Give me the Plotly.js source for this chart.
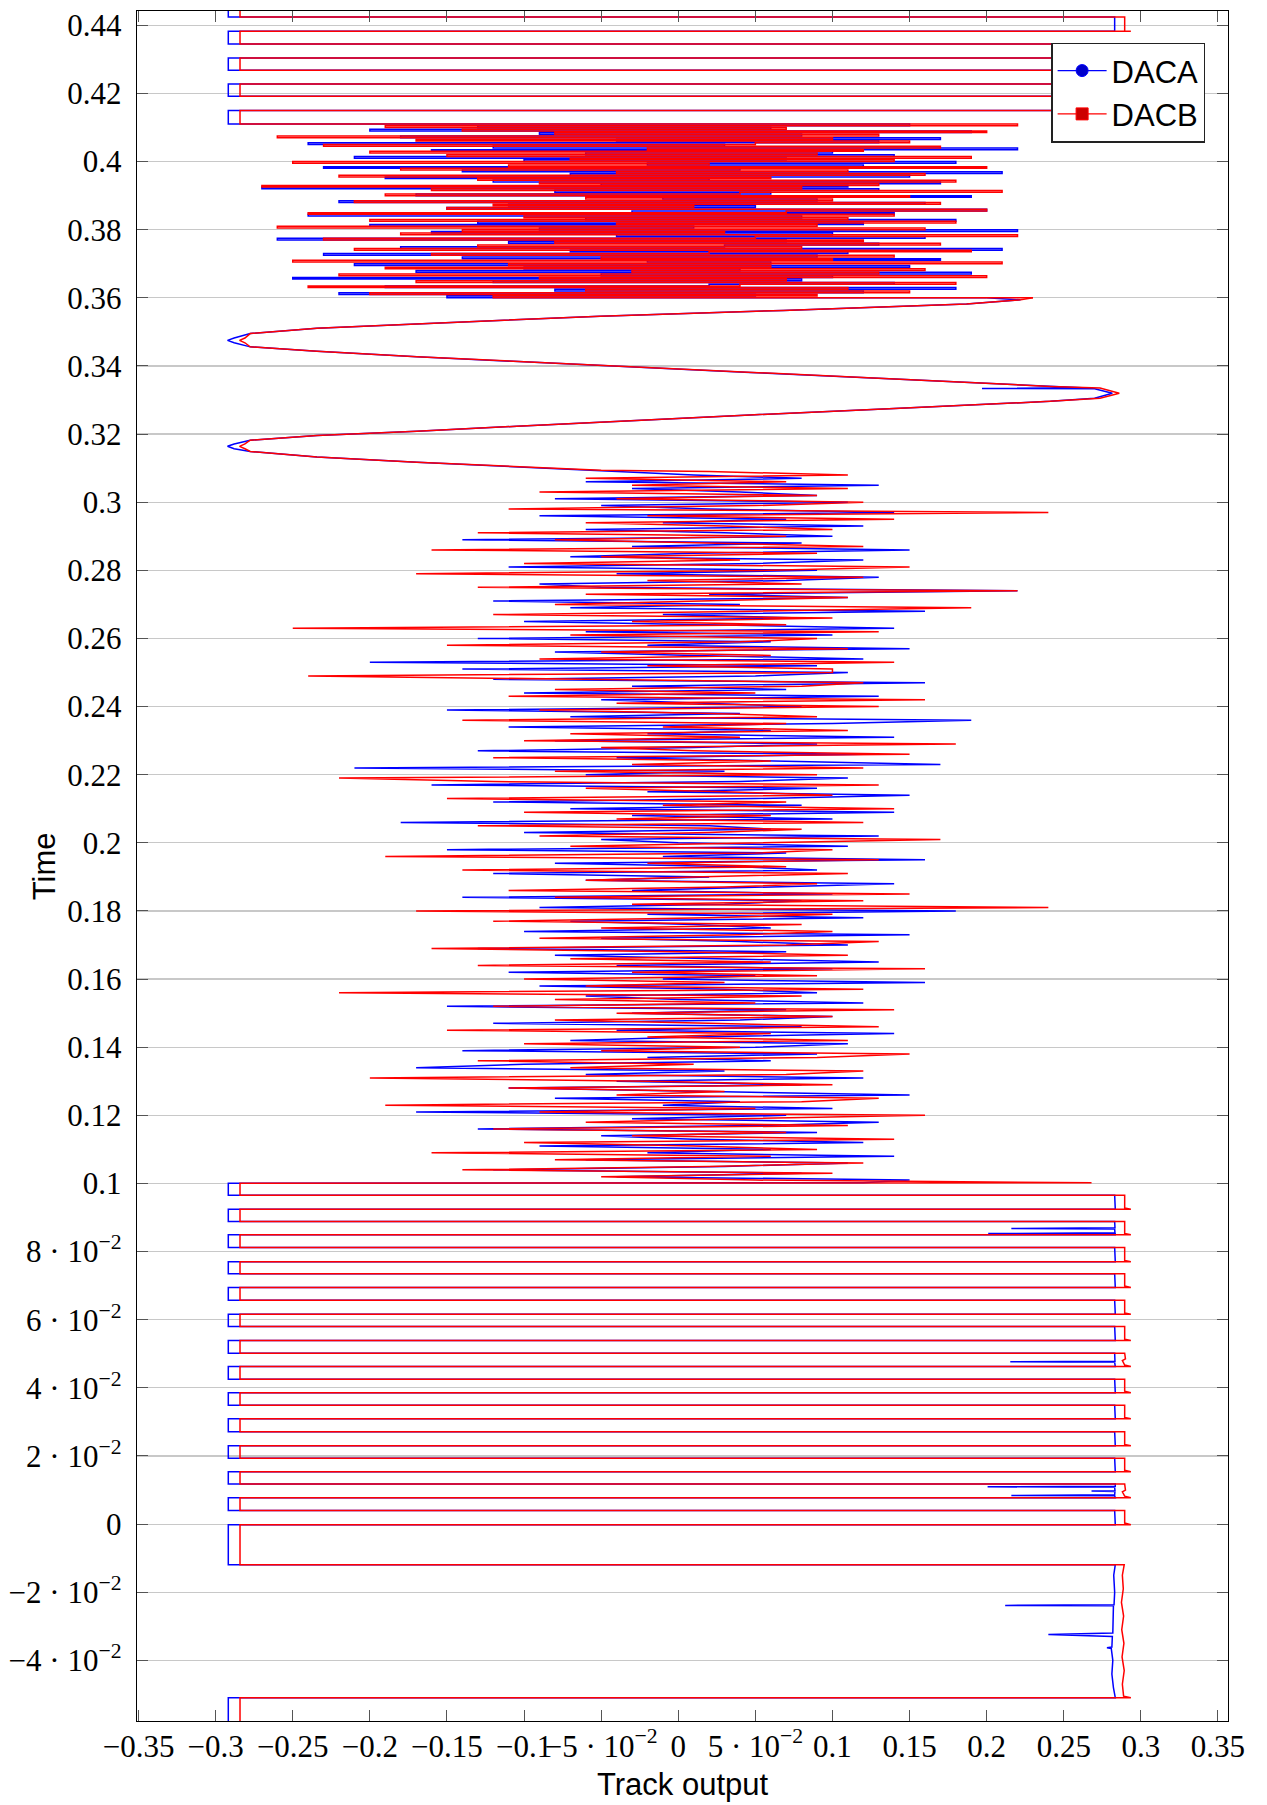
<!DOCTYPE html>
<html>
<head>
<meta charset="utf-8">
<script src="https://cdn.plot.ly/plotly-3.0.1.min.js"></script>
<style>html,body{margin:0;padding:0;background:#fff;}#chart{width:1267px;height:1805px;}</style>
</head>
<body>
<div id="chart"></div>
<script>
// ---- Series names ----
const seriesNames = ['DACA', 'DACB'];

// ---- Tick values and labels ----
const xTickVals = [-0.35,-0.3,-0.25,-0.2,-0.15,-0.1,-0.05,0,0.05,0.1,0.15,0.2,0.25,0.3,0.35];
const xTickText = ['−0.35','−0.3','−0.25','−0.2','−0.15','−0.1','−5 · 10<sup>−2</sup>','0','5 · 10<sup>−2</sup>','0.1','0.15','0.2','0.25','0.3','0.35'];
const yTickVals = [-0.04,-0.02,0,0.02,0.04,0.06,0.08,0.1,0.12,0.14,0.16,0.18,0.2,0.22,0.24,0.26,0.28,0.3,0.32,0.34,0.36,0.38,0.4,0.42,0.44];
const yTickText = ['−4 · 10<sup>−2</sup>','−2 · 10<sup>−2</sup>','0','2 · 10<sup>−2</sup>','4 · 10<sup>−2</sup>','6 · 10<sup>−2</sup>','8 · 10<sup>−2</sup>','0.1','0.12','0.14','0.16','0.18','0.2','0.22','0.24','0.26','0.28','0.3','0.32','0.34','0.36','0.38','0.4','0.42','0.44'];

// ---- DACA: square-wave part, bottom ( [time, output] ) ----
const sqLowA = [
[-0.0600,-0.2918],[-0.05096,-0.2918],[-0.05096,0.2834],[-0.0480,0.2822],[-0.0440,0.2812],[-0.0400,0.2818],
[-0.0365,0.2808],[-0.0363,0.278],[-0.0361,0.2812],[-0.0330,0.2815],[-0.03244,0.240],[-0.0320,0.2818],
[-0.0280,0.2820],[-0.0240,0.2822],[-0.02386,0.212],[-0.0237,0.2826],[-0.0200,0.2830],[-0.0150,0.2824],
[-0.01192,0.2834],[-0.01192,-0.2918],[-0.00018,-0.2918],[-0.00018,0.2834],[0.00402,0.2830],[0.00402,-0.2918],
[0.00775,-0.2918],[0.00775,0.2834],[0.0083,0.2830],[0.00842,0.216],[0.0086,0.2830],[0.0096,0.2832],
[0.00969,0.268],[0.0098,0.2832],[0.0108,0.2830],[0.01097,0.2006],[0.0111,0.2834],[0.01174,0.2834],
[0.01174,-0.2918],[0.01538,-0.2918],[0.01538,0.2834],[0.01937,0.2830],[0.01937,-0.2918],[0.02301,-0.2918],
[0.02301,0.2834],[0.02712,0.2830],[0.02712,-0.2918],[0.03094,-0.2918],[0.03094,0.2834],[0.03493,0.2830],
[0.03493,-0.2918],[0.03857,-0.2918],[0.03857,0.2834],[0.04256,0.2830],[0.04256,-0.2918],[0.04629,-0.2918],
[0.04629,0.2834],[0.0475,0.2830],[0.04767,0.2153],[0.0478,0.2832],[0.05019,0.2830],[0.05019,-0.2918],
[0.05392,-0.2918],[0.05392,0.2834],[0.05803,0.2830],[0.05803,-0.2918],[0.06164,-0.2918],[0.06164,0.2834],
[0.06575,0.2830],[0.06575,-0.2918],[0.06948,-0.2918],[0.06948,0.2834],[0.07350,0.2830],[0.07350,-0.2918],
[0.07702,-0.2918],[0.07702,0.2834],[0.08122,0.2830],[0.08122,-0.2918],[0.08495,-0.2918],[0.08495,0.2834],
[0.0852,0.2834],[0.0853,0.201],[0.0855,0.2832],[0.0866,0.2830],[0.0868,0.216],[0.0870,0.2832],
[0.08885,0.2830],[0.08885,-0.2918],[0.09246,-0.2918],[0.09246,0.2834],[0.09657,0.2830],[0.09657,-0.2918],
[0.10009,-0.2918],[0.1002,0.12]
];

// ---- DACB: square-wave part, bottom ----
const sqLowB = [
[-0.0600,-0.2842],[-0.05096,-0.2842],[-0.05096,0.2935],[-0.0505,0.2888],[-0.0470,0.2880],[-0.0430,0.2892],
[-0.0390,0.2878],[-0.0350,0.2890],[-0.0310,0.2876],[-0.0270,0.2888],[-0.0230,0.2874],[-0.0190,0.2886],
[-0.0150,0.2880],[-0.01192,0.2892],[-0.01192,-0.2842],[-0.00018,-0.2842],[-0.00018,0.2935],[0.0003,0.2895],
[0.00402,0.2895],[0.00402,-0.2842],[0.00775,-0.2842],[0.00775,0.2935],[0.0082,0.2895],[0.0095,0.2880],
[0.0100,0.2900],[0.01174,0.2895],[0.01174,-0.2842],[0.01538,-0.2842],[0.01538,0.2935],[0.0158,0.2895],
[0.01937,0.2895],[0.01937,-0.2842],[0.02301,-0.2842],[0.02301,0.2935],[0.0234,0.2895],[0.02712,0.2895],
[0.02712,-0.2842],[0.03094,-0.2842],[0.03094,0.2935],[0.0313,0.2895],[0.03493,0.2895],[0.03493,-0.2842],
[0.03857,-0.2842],[0.03857,0.2935],[0.0390,0.2895],[0.04256,0.2895],[0.04256,-0.2842],[0.04629,-0.2842],
[0.04629,0.2935],[0.0467,0.2895],[0.0480,0.2880],[0.0485,0.2900],[0.05019,0.2895],[0.05019,-0.2842],
[0.05392,-0.2842],[0.05392,0.2935],[0.0543,0.2895],[0.05803,0.2895],[0.05803,-0.2842],[0.06164,-0.2842],
[0.06164,0.2935],[0.0620,0.2895],[0.06575,0.2895],[0.06575,-0.2842],[0.06948,-0.2842],[0.06948,0.2935],
[0.0699,0.2895],[0.07350,0.2895],[0.07350,-0.2842],[0.07702,-0.2842],[0.07702,0.2935],[0.0774,0.2895],
[0.08122,0.2895],[0.08122,-0.2842],[0.08495,-0.2842],[0.08495,0.2935],[0.0853,0.2895],[0.08885,0.2895],
[0.08885,-0.2842],[0.09246,-0.2842],[0.09246,0.2935],[0.0928,0.2895],[0.09657,0.2895],[0.09657,-0.2842],
[0.10009,-0.2842],[0.1002,0.268]
];

// ---- Noisy stretch 1: sample times (shared) ----
const lowNoiseT = [
0.101,0.102,0.103,0.104,0.105,0.106,0.107,0.108,0.109,0.110,
0.111,0.112,0.113,0.114,0.115,0.116,0.117,0.118,0.119,0.120,
0.121,0.122,0.123,0.124,0.125,0.126,0.127,0.128,0.129,0.130,
0.131,0.132,0.133,0.134,0.135,0.136,0.137,0.138,0.139,0.140,
0.141,0.142,0.143,0.144,0.145,0.146,0.147,0.148,0.149,0.150,
0.151,0.152,0.153,0.154,0.155,0.156,0.157,0.158,0.159,0.160,
0.161,0.162,0.163,0.164,0.165,0.166,0.167,0.168,0.169,0.170,
0.171,0.172,0.173,0.174,0.175,0.176,0.177,0.178,0.179,0.180,
0.181,0.182,0.183,0.184,0.185,0.186,0.187,0.188,0.189,0.190,
0.191,0.192,0.193,0.194,0.195,0.196,0.197,0.198,0.199,0.200,
0.201,0.202,0.203,0.204,0.205,0.206,0.207,0.208,0.209,0.210,
0.211,0.212,0.213,0.214,0.215,0.216,0.217,0.218,0.219,0.220,
0.221,0.222,0.223,0.224,0.225,0.226,0.227,0.228,0.229,0.230,
0.231,0.232,0.233,0.234,0.235,0.236,0.237,0.238,0.239,0.240,
0.241,0.242,0.243,0.244,0.245,0.246,0.247,0.248,0.249,0.250,
0.251,0.252,0.253,0.254,0.255,0.256,0.257,0.258,0.259,0.260,
0.261,0.262,0.263,0.264,0.265,0.266,0.267,0.268,0.269,0.270,
0.271,0.272,0.273,0.274,0.275,0.276,0.277,0.278,0.279,0.280,
0.281,0.282,0.283,0.284,0.285,0.286,0.287,0.288,0.289,0.290,
0.291,0.292,0.293,0.294,0.295,0.296,0.297,0.298,0.299,0.300,
0.301,0.302,0.303,0.304,0.305,0.306,0.307,0.308,0.309
];
const lowNoiseA = [
0.15,-0.04,0.08,-0.12,0.03,0.11,-0.06,0.14,-0.02,0.06,
-0.09,0.12,0.01,-0.05,0.09,-0.13,0.05,0.13,-0.03,0.07,
-0.17,0.10,-0.01,0.04,-0.08,0.15,0.02,-0.11,0.08,-0.04,
0.12,-0.06,0.03,-0.17,-0.10,0.06,-0.02,0.09,-0.14,0.05,
0.11,-0.07,0.01,0.14,-0.04,0.08,-0.12,0.04,0.10,-0.03,
0.07,-0.15,0.12,0.00,-0.06,0.09,0.03,-0.09,0.16,-0.01,
0.05,-0.11,0.10,-0.04,0.13,0.02,-0.08,0.07,-0.13,0.11,
0.04,-0.05,0.15,-0.10,0.06,0.01,-0.07,0.12,-0.02,0.18,
-0.09,0.03,0.08,-0.14,0.10,-0.03,0.05,0.14,-0.06,0.02,
-0.12,0.09,0.04,-0.08,0.16,-0.01,0.07,-0.15,0.11,0.00,
-0.05,0.13,-0.10,0.06,0.02,-0.18,0.10,-0.03,0.14,-0.07,
0.08,-0.12,0.05,0.15,-0.02,0.09,-0.16,0.04,0.11,-0.06,
0.03,-0.21,0.17,0.07,-0.04,0.12,-0.13,0.01,0.09,-0.08,
0.14,-0.02,0.06,-0.11,0.10,0.19,-0.07,0.04,-0.15,0.08,
0.02,-0.05,0.13,-0.10,0.07,-0.03,0.16,-0.12,0.05,0.11,
-0.14,0.09,-0.20,0.12,0.01,-0.08,0.15,-0.02,0.06,-0.13,
0.10,-0.06,0.14,0.03,-0.10,0.08,-0.01,0.16,-0.07,0.04,
-0.12,0.11,0.02,0.22,-0.05,-0.09,0.07,0.13,-0.04,0.09,
-0.11,0.05,0.12,-0.07,0.01,0.15,-0.03,0.08,-0.14,0.10,
0.03,-0.06,0.12,-0.01,0.07,-0.09,0.14,0.02,-0.05,0.11,
-0.08,0.09,0.04,-0.03,0.13,-0.06,0.08,0.01,-0.04
];
const lowNoiseB = [
0.05,-0.05,0.10,-0.14,0.02,0.12,-0.08,0.06,-0.16,0.09,
0.01,-0.10,0.14,-0.03,0.07,-0.12,0.11,-0.06,0.04,0.16,
-0.09,0.05,-0.19,0.08,0.13,-0.04,0.03,-0.11,0.10,-0.02,
-0.20,0.07,0.12,-0.07,0.01,-0.13,0.09,0.15,-0.05,0.04,
-0.10,0.11,-0.02,0.06,-0.15,0.13,0.02,-0.08,0.10,-0.04,
0.14,-0.12,0.05,-0.08,0.08,-0.22,0.12,-0.06,0.03,-0.10,
0.09,-0.03,0.16,-0.13,0.06,-0.07,0.11,0.00,-0.16,0.07,
0.13,-0.09,0.04,0.10,-0.05,0.08,-0.12,0.02,0.10,-0.17,
0.24,-0.03,0.12,-0.08,0.15,-0.11,0.03,0.09,-0.06,0.01,
0.11,-0.14,0.07,-0.02,0.13,-0.19,0.05,0.10,-0.07,0.04,
0.17,-0.09,0.02,0.08,-0.13,0.12,-0.04,0.06,-0.10,0.14,
-0.01,0.07,-0.15,0.10,0.03,-0.06,0.13,-0.12,-0.22,0.09,
-0.08,0.12,-0.03,0.06,-0.12,0.15,0.01,-0.05,0.18,-0.10,
0.04,-0.07,0.11,-0.01,0.07,-0.14,0.09,0.02,-0.09,0.13,
-0.04,0.16,-0.11,0.05,-0.08,0.08,0.12,-0.06,-0.24,0.10,
0.10,-0.02,0.14,-0.09,0.06,-0.05,0.11,-0.15,0.04,0.09,
-0.07,0.13,-0.25,0.07,-0.03,0.10,-0.12,0.05,0.19,-0.08,
0.02,0.11,-0.06,0.22,-0.13,0.08,-0.02,0.12,-0.17,0.06,
0.15,-0.10,0.04,-0.05,0.09,-0.16,0.12,0.01,-0.08,0.07,
-0.13,0.10,0.03,-0.06,0.14,-0.02,0.24,-0.11,0.05,0.12,
-0.04,0.09,-0.09,0.11,-0.03,0.07,-0.06,0.11,0.02
];

// ---- Sinusoidal stretch ( [time, output] ) ----
const sinA = [
[0.3094,-0.050],[0.3104,-0.1046],[0.3117,-0.1695],[0.3133,-0.2343],[0.3149,-0.2776],[0.3157,-0.2880],
[0.3164,-0.2923],[0.3171,-0.2880],[0.3182,-0.2776],[0.3196,-0.2343],[0.3208,-0.1695],[0.3223,-0.1046],
[0.3235,-0.0506],[0.3256,0.0465],[0.3276,0.1438],[0.3296,0.2413],[0.3305,0.2700],[0.3320,0.2815],
[0.3333,0.2700],[0.3334,0.197],[0.3336,0.262],[0.3340,0.2413],[0.3361,0.1438],[0.3381,0.0465],
[0.3401,-0.0506],[0.3412,-0.1046],[0.3427,-0.1695],[0.3443,-0.2343],[0.3456,-0.2776],[0.3468,-0.2880],
[0.3475,-0.2923],[0.3482,-0.2880],[0.3495,-0.2776],[0.3511,-0.2343],[0.3524,-0.1695],[0.3536,-0.1046],
[0.3546,-0.0506],[0.3563,0.068],[0.3582,0.187],[0.3594,0.222]
];
const sinB = [
[0.3094,-0.050],[0.3104,-0.1046],[0.3117,-0.1695],[0.3133,-0.2343],[0.3149,-0.2776],[0.3157,-0.2810],
[0.3164,-0.2845],[0.3171,-0.2810],[0.3182,-0.2776],[0.3196,-0.2343],[0.3208,-0.1695],[0.3223,-0.1046],
[0.3235,-0.0506],[0.3256,0.0465],[0.3276,0.1438],[0.3296,0.2413],[0.3305,0.2735],[0.3320,0.2860],
[0.3335,0.2735],[0.3340,0.2413],[0.3361,0.1438],[0.3381,0.0465],
[0.3401,-0.0506],[0.3412,-0.1046],[0.3427,-0.1695],[0.3443,-0.2343],[0.3456,-0.2776],[0.3468,-0.2810],
[0.3475,-0.2845],[0.3482,-0.2810],[0.3495,-0.2776],[0.3511,-0.2343],[0.3524,-0.1695],[0.3536,-0.1046],
[0.3546,-0.0506],[0.3563,0.068],[0.3582,0.187],[0.3594,0.222]
];

// ---- Noisy stretch 2: sample times (shared) ----
const upNoiseT = [
0.3600,0.3605,0.3610,0.3615,0.3620,0.3625,0.3630,0.3635,0.3640,0.3645,
0.3650,0.3655,0.3660,0.3665,0.3670,0.3675,0.3680,0.3685,0.3690,0.3695,
0.3700,0.3705,0.3710,0.3715,0.3720,0.3725,0.3730,0.3735,0.3740,0.3745,
0.3750,0.3755,0.3760,0.3765,0.3770,0.3775,0.3780,0.3785,0.3790,0.3795,
0.3800,0.3805,0.3810,0.3815,0.3820,0.3825,0.3830,0.3835,0.3840,0.3845,
0.3850,0.3855,0.3860,0.3865,0.3870,0.3875,0.3880,0.3885,0.3890,0.3895,
0.3900,0.3905,0.3910,0.3915,0.3920,0.3925,0.3930,0.3935,0.3940,0.3945,
0.3950,0.3955,0.3960,0.3965,0.3970,0.3975,0.3980,0.3985,0.3990,0.3995,
0.4000,0.4005,0.4010,0.4015,0.4020,0.4025,0.4030,0.4035,0.4040,0.4045,
0.4050,0.4055,0.4060,0.4065,0.4070,0.4075,0.4080,0.4085,0.4090,0.4095,
0.4100,0.4105,0.4110
];
const upNoiseA = [
0.20,-0.15,0.05,-0.22,0.12,-0.08,0.18,-0.19,0.02,0.14,
-0.12,0.08,-0.25,0.10,-0.05,0.19,-0.17,0.04,-0.10,0.15,
-0.21,0.06,-0.02,0.17,-0.14,0.09,-0.23,0.11,-0.07,0.21,
-0.18,0.03,0.13,-0.11,0.07,-0.26,0.16,-0.04,0.10,-0.16,
0.22,-0.09,0.01,-0.20,0.12,-0.13,0.18,-0.06,0.08,-0.24,
0.14,-0.03,0.20,-0.15,0.05,-0.11,0.16,-0.22,0.09,-0.01,
0.19,-0.17,0.06,-0.08,0.13,-0.27,0.11,-0.05,0.17,-0.12,
0.02,-0.19,0.15,-0.07,0.21,-0.14,0.04,-0.23,0.12,-0.02,
0.18,-0.10,0.07,-0.21,0.14,-0.06,0.10,-0.16,0.22,-0.12,
0.03,-0.24,0.13,-0.04,0.17,-0.18,0.08,-0.09,0.19,-0.20,
0.06,-0.13,0.15
];
const upNoiseB = [
0.23,-0.12,0.09,-0.20,0.15,-0.06,0.11,-0.24,0.04,0.18,
-0.17,0.07,-0.09,0.20,-0.22,0.13,-0.03,0.16,-0.19,0.06,
-0.11,0.21,-0.25,0.10,-0.05,0.14,-0.16,0.02,0.19,-0.21,
0.08,-0.13,0.17,-0.08,0.12,-0.23,0.05,0.22,-0.18,0.03,
-0.14,0.16,-0.26,0.09,-0.04,0.18,-0.20,0.11,-0.10,0.14,
-0.24,0.07,0.20,-0.15,0.01,-0.12,0.17,-0.21,0.10,-0.06,
0.15,-0.19,0.04,0.21,-0.16,0.08,-0.27,0.13,-0.09,0.18,
-0.13,0.06,-0.22,0.16,-0.04,0.11,-0.18,0.20,-0.11,0.02,
-0.25,0.14,-0.07,0.19,-0.15,0.09,-0.20,0.12,-0.02,0.17,
-0.23,0.05,0.15,-0.17,0.10,-0.26,0.13,-0.08,0.20,-0.14,
0.07,-0.19,0.22
];

// ---- Square-wave part, top ( [time, output] ) ----
const sqTopA = [
[0.41153,-0.2918],[0.41496,-0.2918],[0.41496,0.2834],[0.41916,0.2830],[0.41916,-0.2918],[0.42280,-0.2918],
[0.42280,0.2834],[0.42679,0.2830],[0.42679,-0.2918],[0.43043,-0.2918],[0.43043,0.2834],[0.43454,0.2830],
[0.43454,-0.2918],[0.43824,-0.2918],[0.43824,0.2834],[0.44247,0.2830],[0.44247,-0.2918],[0.4470,-0.2918]
];
const sqTopB = [
[0.41153,-0.2842],[0.41496,-0.2842],[0.41496,0.2935],[0.4153,0.2895],[0.41916,0.2895],[0.41916,-0.2842],
[0.42280,-0.2842],[0.42280,0.2935],[0.4231,0.2895],[0.42679,0.2895],[0.42679,-0.2842],[0.43043,-0.2842],
[0.43043,0.2935],[0.4308,0.2895],[0.43454,0.2895],[0.43454,-0.2842],[0.43824,-0.2842],[0.43824,0.2935],
[0.4386,0.2895],[0.44247,0.2895],[0.44247,-0.2842],[0.4470,-0.2842]
];

// ---- Assemble each series in time order ----
function pairsT(p) { return p.map(q => q[0]); }
function pairsX(p) { return p.map(q => q[1]); }
function series(sqLow, lowN, sinP, upN, sqTop, color, name) {
  const common = {type: 'scatter', mode: 'lines', showlegend: false, hoverinfo: 'skip', name: name};
  // bottom square wave, first noisy stretch and the sine stretch: straight segments
  const lowMid = Object.assign({}, common, {
    x: pairsX(sqLow).concat(lowN, pairsX(sinP), [upN[0]]),
    y: pairsT(sqLow).concat(lowNoiseT, pairsT(sinP), [upNoiseT[0]]),
    line: {color: color, width: 1.5}});
  // second noisy stretch and top square wave: held samples
  const up = Object.assign({}, common, {
    x: upN.concat(pairsX(sqTop)), y: upNoiseT.concat(pairsT(sqTop)),
    line: {color: color, width: 1.5, shape: 'hv'}});
  return [lowMid, up];
}

const blue = '#0000ff', red = '#ff0000';
const traces = [].concat(
  series(sqLowA, lowNoiseA, sinA, upNoiseA, sqTopA, blue, seriesNames[0]),
  series(sqLowB, lowNoiseB, sinB, upNoiseB, sqTopB, red, seriesNames[1]),
  [
  {x: [null], y: [null], type: 'scatter', mode: 'lines+markers', name: seriesNames[0],
   line: {color: blue, width: 1.3}, marker: {symbol: 'circle', size: 12, color: '#0000cc', line: {color: blue, width: 1}}},
  {x: [null], y: [null], type: 'scatter', mode: 'lines+markers', name: seriesNames[1],
   line: {color: red, width: 1.3}, marker: {symbol: 'square', size: 12, color: '#cc0000', line: {color: red, width: 1}}}
  ]
);

const tickFont = {family: 'Liberation Serif, serif', size: 31, color: '#000'};
const layout = {
  width: 1267, height: 1805,
  margin: {l: 137, r: 39, t: 11, b: 84},
  paper_bgcolor: '#fff', plot_bgcolor: '#fff',
  showlegend: true,
  legend: {x: 0.9792, xanchor: 'right', y: 0.9815, yanchor: 'top',
           bgcolor: '#fff', bordercolor: '#222', borderwidth: 1.3,
           font: {family: 'Liberation Sans, Arial, sans-serif', size: 31, color: '#000'},
           itemwidth: 49, tracegroupgap: 0},
  xaxis: {range: [-0.351, 0.3565], tickmode: 'array', tickvals: xTickVals, ticktext: xTickText,
          tickangle: 0, ticks: 'inside', ticklen: 11, tickwidth: 1, tickcolor: '#555',
          showline: true, linecolor: '#000', linewidth: 1.3, mirror: 'ticks',
          showgrid: false, zeroline: false, automargin: false, tickfont: tickFont, ticklabelstandoff: -3},
  yaxis: {range: [-0.0578, 0.4442], tickmode: 'array', tickvals: yTickVals, ticktext: yTickText,
          ticks: 'inside', ticklen: 11, tickwidth: 1, tickcolor: '#555',
          showline: true, linecolor: '#000', linewidth: 1.3, mirror: 'ticks',
          showgrid: true, gridcolor: '#c8c8c8', gridwidth: 1.2, zeroline: false, automargin: false,
          tickfont: tickFont, ticklabelstandoff: 8},
  annotations: [
    {text: 'Track output', xref: 'paper', yref: 'paper', x: 0.5, y: -0.037, xanchor: 'center', yanchor: 'middle',
     showarrow: false, font: {family: 'Liberation Sans, Arial, sans-serif', size: 31, color: '#000'}},
    {text: 'Time', xref: 'paper', yref: 'paper', x: -0.085, y: 0.5, xanchor: 'center', yanchor: 'middle',
     textangle: -90, showarrow: false, font: {family: 'Liberation Sans, Arial, sans-serif', size: 31, color: '#000'}}
  ]
};

Plotly.newPlot('chart', traces, layout, {staticPlot: true, displayModeBar: false});
</script>
</body>
</html>
